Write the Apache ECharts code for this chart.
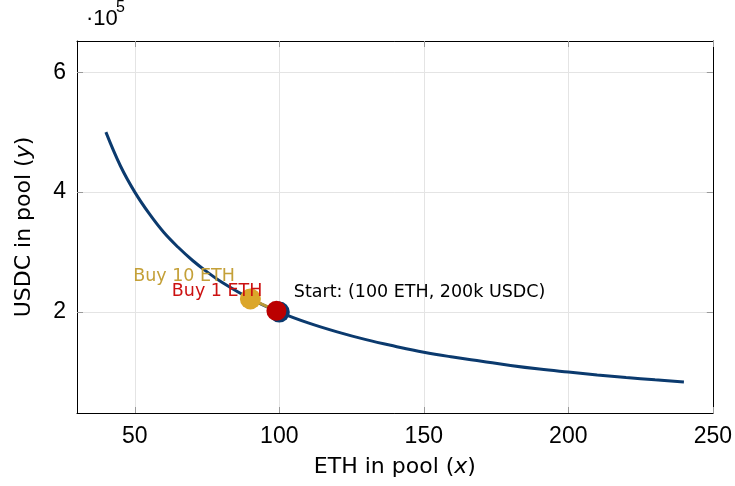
<!DOCTYPE html>
<html>
<head>
<meta charset="utf-8">
<script src="https://cdn.jsdelivr.net/npm/echarts@6/dist/echarts.min.js"></script>
<style>
  html, body { margin: 0; padding: 0; background: #fff; }
  #chart { width: 735px; height: 486px; }
</style>
</head>
<body>
<div id="chart"></div>
<script>
// values
var ethInPool = [40, 45, 50, 55, 60, 65, 70, 75, 80, 90, 100, 110, 120, 130, 140, 150, 160, 170, 180, 190, 200, 210, 220, 230, 240];
var usdcInPool = [500000, 444000, 400000, 364000, 333000, 308000, 286000, 267000, 250000, 222000, 200000, 182000, 167000, 154000, 143000, 133000, 125000, 118000, 111000, 105000, 100000, 95200, 90900, 87000, 83300];

var startPoint = [100, 200000];
var buy1Point = [99, 202000];
var buy10Point = [90, 222000];

var xTicks = [50, 100, 150, 200, 250];
var yTicks = [200000, 400000, 600000];

var font = 'Liberation Sans';
var labelFont = 'DejaVu Sans';
var tickStyle = { show: true, inside: true, length: 6, lineStyle: { color: '#999', width: 1 } };

var chart = echarts.init(document.getElementById('chart'));

var option = {
    backgroundColor: '#fff',
    animation: false,
    grid: { left: 77, right: 22, top: 41, bottom: 73 },
    // axis multiplier "·10^5" above the y axis
    graphic: [
        {
            type: 'text',
            left: 86,
            top: 8,
            style: { text: '·10', fontSize: 22, fontFamily: font, fill: '#000' }
        },
        {
            type: 'text',
            left: 116,
            top: 0,
            style: { text: '5', fontSize: 16, fontFamily: font, fill: '#000' }
        }
    ],
    xAxis: [
        {
            type: 'value',
            min: 30,
            max: 250,
            name: 'ETH in pool ({i|x})',
            nameLocation: 'middle',
            nameGap: 43,
            nameTextStyle: {
                fontSize: 22, fontFamily: labelFont, color: '#000',
                rich: { i: { fontStyle: 'italic', fontSize: 22, fontFamily: labelFont } }
            },
            axisLine: { show: true, onZero: false, lineStyle: { color: '#000', width: 1 } },
            axisTick: Object.assign({ customValues: xTicks }, tickStyle),
            axisLabel: { customValues: xTicks, fontSize: 23, fontFamily: font, color: '#000', margin: 12 },
            splitLine: { show: true, lineStyle: { color: '#e4e4e4', width: 1 } }
        },
        {
            type: 'value',
            position: 'top',
            min: 30,
            max: 250,
            axisLine: { show: true, onZero: false, lineStyle: { color: '#000', width: 1 } },
            axisTick: Object.assign({ customValues: xTicks }, tickStyle),
            axisLabel: { show: false },
            splitLine: { show: false }
        }
    ],
    yAxis: [
        {
            type: 'value',
            min: 31700,
            max: 652000,
            name: 'USDC in pool ({i|y})',
            nameLocation: 'middle',
            nameGap: 42,
            nameRotate: 90,
            nameTextStyle: {
                fontSize: 22, fontFamily: labelFont, color: '#000',
                rich: { i: { fontStyle: 'italic', fontSize: 22, fontFamily: labelFont } }
            },
            axisLine: { show: true, onZero: false, lineStyle: { color: '#000', width: 1 } },
            axisTick: Object.assign({ customValues: yTicks }, tickStyle),
            axisLabel: {
                customValues: yTicks,
                fontSize: 23, fontFamily: font, color: '#000', margin: 11,
                formatter: function (v) { return String(v / 100000); }
            },
            splitLine: { show: true, lineStyle: { color: '#e4e4e4', width: 1 } }
        },
        {
            type: 'value',
            position: 'right',
            min: 31700,
            max: 652000,
            axisLine: { show: true, onZero: false, lineStyle: { color: '#000', width: 1 } },
            axisTick: Object.assign({ customValues: yTicks }, tickStyle),
            axisLabel: { show: false },
            splitLine: { show: false }
        }
    ],
    series: [
        {
            name: 'curve',
            type: 'line',
            smooth: 0.4,
            showSymbol: false,
            data: ethInPool.map(function (x, i) { return [x, usdcInPool[i]]; }),
            lineStyle: { color: '#0b3a6e', width: 3 },
            z: 2
        },
        {
            name: 'trade',
            type: 'line',
            showSymbol: false,
            data: [buy10Point, startPoint],
            lineStyle: { color: '#b89a3a', width: 3 },
            z: 3
        },
        {
            name: 'start',
            type: 'scatter',
            symbolSize: 21,
            data: [startPoint],
            itemStyle: { color: '#0b3a6e', opacity: 1 },
            label: {
                show: true,
                position: 'right',
                distance: 4,
                offset: [0, -20],
                formatter: 'Start: (100 ETH, 200k USDC)',
                fontSize: 17.5,
                fontFamily: labelFont,
                color: '#000'
            },
            z: 4
        },
        {
            name: 'buy10',
            type: 'scatter',
            symbolSize: 21,
            data: [buy10Point],
            itemStyle: { color: '#dba62a', opacity: 1 },
            label: {
                show: true,
                position: 'left',
                distance: 0,
                offset: [-5, -22],
                formatter: 'Buy 10 ETH',
                fontSize: 17.5,
                fontFamily: labelFont,
                color: '#c4a038'
            },
            z: 5
        },
        {
            name: 'buy1',
            type: 'scatter',
            symbolSize: 20,
            data: [buy1Point],
            itemStyle: { color: '#bb0000', opacity: 1 },
            label: {
                show: true,
                position: 'left',
                distance: 0,
                offset: [-4, -19],
                formatter: 'Buy 1 ETH',
                fontSize: 17.5,
                fontFamily: labelFont,
                color: '#cc1111'
            },
            z: 6
        }
    ]
};

chart.setOption(option);
</script>
</body>
</html>
